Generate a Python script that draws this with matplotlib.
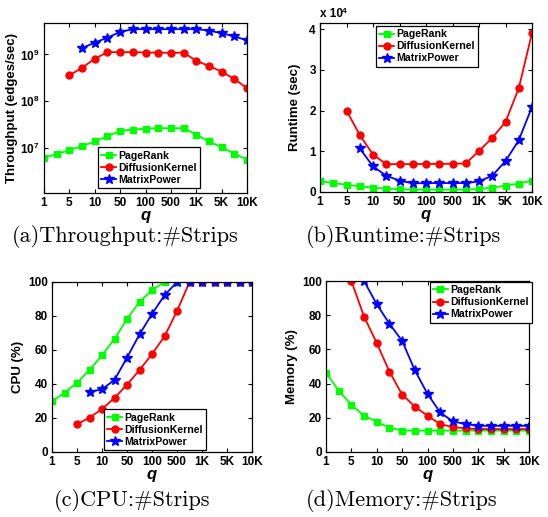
import numpy as np
import matplotlib
matplotlib.use("Agg")
import matplotlib.pyplot as plt
from matplotlib.ticker import FixedLocator, FixedFormatter, NullLocator

plt.rcParams['font.family'] = ['Liberation Sans', 'DejaVu Sans']
plt.rcParams['font.weight'] = 'bold'
plt.rcParams['axes.labelweight'] = 'bold'
plt.rcParams['mathtext.fontset'] = 'custom'
plt.rcParams['mathtext.rm'] = 'Liberation Sans:bold'
plt.rcParams['mathtext.bf'] = 'Liberation Sans:bold'
plt.rcParams['mathtext.default'] = 'bf'

# x axis: number of strips q (17 settings, every other one labelled)
q_labels = ['1', '5', '10', '50', '100', '500', '1K', '5K', '10K']
q_pos = np.arange(17)

# (a) throughput, edges/sec
thr_pagerank = [6.3e6, 7.4e6, 9.1e6, 1.1e7, 1.39e7, 1.8e7, 2.33e7, 2.49e7, 2.61e7,
                2.66e7, 2.66e7, 2.66e7, 1.94e7, 1.39e7, 1.05e7, 7.6e6, 5.7e6]
thr_diffusion = [3.6e8, 5.2e8, 8.1e8, 1.12e9, 1.12e9, 1.12e9, 1.1e9, 1.1e9, 1.08e9,
                 1.1e9, 7.3e8, 5.7e8, 4.3e8, 3.0e8, 1.9e8]
thr_matrix = [1.37e9, 1.79e9, 2.29e9, 3.03e9, 3.47e9, 3.47e9, 3.47e9, 3.47e9, 3.47e9,
              3.47e9, 3.24e9, 2.84e9, 2.44e9, 2.0e9]

# (b) runtime, sec
rt_pagerank = [2640, 2200, 1800, 1400, 1070, 800, 660, 580, 580, 580, 580, 580,
               740, 1070, 1570, 2060, 2800]
rt_diffusion = [20000, 14000, 9200, 6850, 6850, 6850, 6900, 6900, 6950, 7000,
                10100, 13300, 17200, 25500, 39000]
rt_matrix = [10700, 6300, 4000, 2800, 2150, 2150, 2200, 2200, 2200, 2600,
             4000, 7600, 12700, 20900]

# (c) CPU %
cpu_pagerank = [29.8, 34.9, 40.8, 48.2, 56.9, 66.5, 78.2, 88.4, 95.1, 100,
                100, 100, 100, 100, 100, 100, 100]
cpu_diffusion = [16.3, 20.2, 25.3, 31.8, 39.6, 48.2, 57.6, 68.0, 82.9,
                 100, 100, 100, 100, 100, 100]
cpu_matrix = [35.3, 36.9, 42.4, 55.5, 69.2, 81.2, 92.2, 100,
              100, 100, 100, 100, 100, 100]

# (d) memory %
mem_pagerank = [46.4, 35.9, 27.6, 21.2, 17.7, 14.2, 12.5, 12.5, 12.5, 12.5,
                12.5, 12.5, 12.5, 12.5, 12.5, 12.5, 12.5]
mem_diffusion = [100, 79.2, 63.7, 47.0, 33.6, 26.6, 21.2, 16.3, 14.6, 13.8,
                 13.4, 13.4, 13.4, 13.4, 13.4]
mem_matrix = [100, 86.4, 75.0, 65.0, 47.8, 34.0, 23.1, 17.9, 16.3,
              15.3, 15.3, 15.3, 15.3, 15.3]

W, H = 548, 517
fig = plt.figure(figsize=(W / 100, H / 100), dpi=100)

def box(l, r, t, b):
    return [l / W, (H - b) / H, (r - l) / W, (b - t) / H]

def draw(ax, pr, dk, mp):
    ax.plot(q_pos[17 - len(pr):], pr, '-s', color='#00ff00', lw=1.3, ms=5, label='PageRank')
    ax.plot(q_pos[17 - len(dk):], dk, '-o', color='#ff0000', lw=1.3, ms=5, label='DiffusionKernel')
    ax.plot(q_pos[17 - len(mp):], mp, '-*', color='#0000ff', lw=1.3, ms=7.5, label='MatrixPower')
    ax.set_xlim(0, 16)
    ax.set_xticks(q_pos[::2])
    ax.set_xticklabels(q_labels)
    ax.set_xlabel('q', fontsize=12, fontstyle='italic', fontweight='bold', labelpad=-1)
    ax.tick_params(direction='in', top=True, right=True, length=3, labelsize=8.5, pad=3)
    for s in ax.spines.values():
        s.set_linewidth(0.9)

def legend(ax, loc, anchor):
    lg = ax.legend(loc=loc, bbox_to_anchor=anchor, fontsize=7.6, numpoints=1,
                   handlelength=1.4, handletextpad=0.25, borderpad=0.3,
                   labelspacing=0.2, borderaxespad=0, fancybox=False,
                   framealpha=1, edgecolor='black')
    lg.get_frame().set_linewidth(0.9)

# (a)
ax = fig.add_axes(box(44, 247, 23, 193))
draw(ax, thr_pagerank, thr_diffusion, thr_matrix)
ax.set_yscale('log')
ax.set_ylim(1.1e6, 4.7e9)
ax.yaxis.set_major_locator(FixedLocator([1e7, 1e8, 1e9]))
ax.yaxis.set_major_formatter(FixedFormatter([r'$10^7$', r'$10^8$', r'$10^9$']))
ax.yaxis.set_minor_locator(NullLocator())
ax.set_ylabel('Throughput (edges/sec)', fontsize=9.5, labelpad=2)
legend(ax, 'lower left', (0.266, 0.03))

# (b)
ax = fig.add_axes(box(320, 532, 23, 192))
draw(ax, rt_pagerank, rt_diffusion, rt_matrix)
ax.set_ylim(0, 4.15e4)
ax.set_yticks([0, 1e4, 2e4, 3e4, 4e4])
ax.set_yticklabels(['0', '1', '2', '3', '4'])
ax.set_ylabel('Runtime (sec)', fontsize=9.5, labelpad=6)
ax.text(0.0, 1.015, 'x 10', transform=ax.transAxes, fontsize=8.5, ha='left', va='bottom')
ax.text(0.105, 1.05, '4', transform=ax.transAxes, fontsize=6, ha='left', va='bottom')
legend(ax, 'upper left', (0.264, 0.982))

# (c)
ax = fig.add_axes(box(52, 252, 282, 452))
draw(ax, cpu_pagerank, cpu_diffusion, cpu_matrix)
ax.set_ylim(0, 100)
ax.set_yticks(range(0, 101, 20))
ax.set_ylabel('CPU (%)', fontsize=9.5, labelpad=3)
legend(ax, 'lower left', (0.26, 0.012))

# (d)
ax = fig.add_axes(box(326, 529, 281, 452))
draw(ax, mem_pagerank, mem_diffusion, mem_matrix)
ax.set_ylim(0, 100)
ax.set_yticks(range(0, 101, 20))
ax.set_ylabel('Memory (%)', fontsize=9.5, labelpad=3)
legend(ax, 'upper left', (0.512, 0.994))

cap = dict(fontsize=16, family=['cmr10', 'DejaVu Serif'], fontweight='normal',
           ha='center', va='center')
fig.text(125 / W, 1 - 237 / H, '(a)Throughput:#Strips', **cap)
fig.text(404 / W, 1 - 237 / H, '(b)Runtime:#Strips', **cap)
fig.text(132 / W, 1 - 500 / H, '(c)CPU:#Strips', **cap)
fig.text(402 / W, 1 - 500 / H, '(d)Memory:#Strips', **cap)

fig.savefig('out.png', dpi=100)
